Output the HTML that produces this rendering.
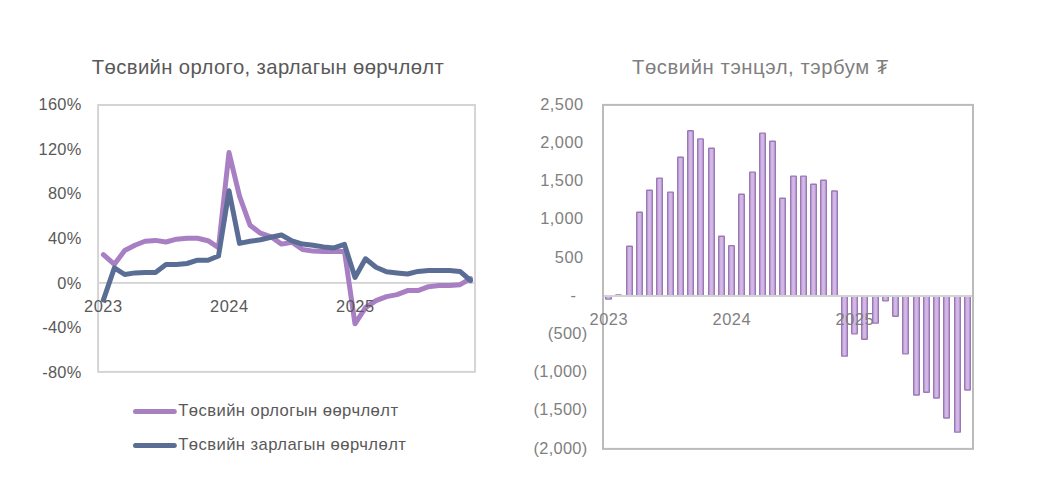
<!DOCTYPE html>
<html><head><meta charset="utf-8"><title>Charts</title>
<style>
html,body{margin:0;padding:0;background:#fff;}
body{width:1045px;height:495px;overflow:hidden;}
svg{display:block;}
svg text{font-family:'Liberation Sans',sans-serif;}
</style></head>
<body>
<svg width="1045" height="495" viewBox="0 0 1045 495">
<rect width="1045" height="495" fill="#ffffff"/>
<g id="left-chart">
<rect x="98.1" y="105.0" width="376.9" height="266.9" fill="none" stroke="#d3d3d3" stroke-width="1.9"/>
<line x1="98.1" y1="282.9" x2="475.0" y2="282.9" stroke="#d2d2d2" stroke-width="1.6"/>
<text x="81.6" y="109.8" text-anchor="end" font-size="16.4" letter-spacing="0.3" fill="#595959">160%</text>
<text x="81.6" y="154.5" text-anchor="end" font-size="16.4" letter-spacing="0.3" fill="#595959">120%</text>
<text x="81.6" y="199.1" text-anchor="end" font-size="16.4" letter-spacing="0.3" fill="#595959">80%</text>
<text x="81.6" y="243.8" text-anchor="end" font-size="16.4" letter-spacing="0.3" fill="#595959">40%</text>
<text x="81.6" y="288.5" text-anchor="end" font-size="16.4" letter-spacing="0.3" fill="#595959">0%</text>
<text x="81.6" y="333.2" text-anchor="end" font-size="16.4" letter-spacing="0.3" fill="#595959">-40%</text>
<text x="81.6" y="377.8" text-anchor="end" font-size="16.4" letter-spacing="0.3" fill="#595959">-80%</text>
<path d="M103.4,254.6 L114.4,264.3 L124.7,250.5 L134.9,245.2 L145.0,241.2 L155.5,240.4 L166.0,242.0 L176.5,239.2 L187.0,238.3 L197.5,238.3 L208.0,240.7 L218.5,247.6 L229.0,152.6 L239.5,196.2 L250.0,225.2 L260.5,233.2 L271.0,236.8 L281.5,244.1 L292.0,242.3 L302.5,249.5 L313.0,251.1 L323.5,251.4 L334.0,251.4 L344.5,251.4 L355.0,323.8 L365.5,307.7 L376.0,300.7 L386.5,296.6 L397.0,294.6 L407.5,290.6 L418.0,290.6 L428.5,286.7 L439.0,285.5 L449.5,285.5 L460.0,284.7 L470.5,278.6" fill="none" stroke="#a97fc4" stroke-width="5.0" stroke-linejoin="round" stroke-linecap="round"/>
<path d="M103.4,299.9 L114.4,267.9 L124.7,274.5 L134.9,272.9 L145.0,272.4 L155.5,272.4 L166.0,264.6 L176.5,264.6 L187.0,263.5 L197.5,260.2 L208.0,260.2 L218.5,256.0 L229.0,190.8 L239.5,243.4 L250.0,241.2 L260.5,239.8 L271.0,237.3 L281.5,235.0 L292.0,240.9 L302.5,244.1 L313.0,245.3 L323.5,246.9 L334.0,247.9 L344.5,244.4 L355.0,277.4 L365.5,258.8 L376.0,267.3 L386.5,271.8 L397.0,273.0 L407.5,274.0 L418.0,271.4 L428.5,270.6 L439.0,270.6 L449.5,270.6 L460.0,271.4 L470.5,280.5" fill="none" stroke="#5a6d94" stroke-width="5.0" stroke-linejoin="round" stroke-linecap="round"/>
<text x="103.3" y="311.5" text-anchor="middle" font-size="16.4" letter-spacing="0.5" fill="#595959">2023</text>
<text x="229.3" y="311.5" text-anchor="middle" font-size="16.4" letter-spacing="0.5" fill="#595959">2024</text>
<text x="355.3" y="311.5" text-anchor="middle" font-size="16.4" letter-spacing="0.5" fill="#595959">2025</text>
<text x="91.8" y="73.65" font-size="20.3" letter-spacing="0.375" fill="#595959">Төсвийн орлого, зарлагын өөрчлөлт</text>
<line x1="135.5" y1="411.5" x2="174.3" y2="411.5" stroke="#a97fc4" stroke-width="5.0" stroke-linecap="round"/>
<text x="178.2" y="415.85" font-size="16.6" letter-spacing="0.44" fill="#595959">Төсвийн орлогын өөрчлөлт</text>
<line x1="135.5" y1="445.5" x2="174.3" y2="445.5" stroke="#5a6d94" stroke-width="5.0" stroke-linecap="round"/>
<text x="178.2" y="450.35" font-size="16.6" letter-spacing="0.44" fill="#595959">Төсвийн зарлагын өөрчлөлт</text>
</g>
<g id="right-chart">
<defs><linearGradient id="bg" x1="0" x2="1" y1="0" y2="0"><stop offset="0" stop-color="#c7a9df"/><stop offset="0.5" stop-color="#d3b9e7"/><stop offset="1" stop-color="#c7a9df"/></linearGradient></defs>
<rect x="605.70" y="295.90" width="5.6" height="3.20" rx="0.5" fill="url(#bg)" stroke="#9b79b5" stroke-width="1.4"/>
<rect x="615.70" y="294.90" width="5.6" height="1.00" rx="0.5" fill="url(#bg)" stroke="#9b79b5" stroke-width="1.4"/>
<rect x="626.70" y="246.30" width="5.6" height="49.60" rx="0.5" fill="url(#bg)" stroke="#9b79b5" stroke-width="1.4"/>
<rect x="636.70" y="212.30" width="5.6" height="83.60" rx="0.5" fill="url(#bg)" stroke="#9b79b5" stroke-width="1.4"/>
<rect x="646.70" y="190.20" width="5.6" height="105.70" rx="0.5" fill="url(#bg)" stroke="#9b79b5" stroke-width="1.4"/>
<rect x="656.70" y="178.10" width="5.6" height="117.80" rx="0.5" fill="url(#bg)" stroke="#9b79b5" stroke-width="1.4"/>
<rect x="667.70" y="192.10" width="5.6" height="103.80" rx="0.5" fill="url(#bg)" stroke="#9b79b5" stroke-width="1.4"/>
<rect x="677.70" y="157.20" width="5.6" height="138.70" rx="0.5" fill="url(#bg)" stroke="#9b79b5" stroke-width="1.4"/>
<rect x="687.70" y="130.80" width="5.6" height="165.10" rx="0.5" fill="url(#bg)" stroke="#9b79b5" stroke-width="1.4"/>
<rect x="697.70" y="138.90" width="5.6" height="157.00" rx="0.5" fill="url(#bg)" stroke="#9b79b5" stroke-width="1.4"/>
<rect x="708.70" y="148.20" width="5.6" height="147.70" rx="0.5" fill="url(#bg)" stroke="#9b79b5" stroke-width="1.4"/>
<rect x="718.70" y="236.30" width="5.6" height="59.60" rx="0.5" fill="url(#bg)" stroke="#9b79b5" stroke-width="1.4"/>
<rect x="728.70" y="245.60" width="5.6" height="50.30" rx="0.5" fill="url(#bg)" stroke="#9b79b5" stroke-width="1.4"/>
<rect x="738.70" y="194.20" width="5.6" height="101.70" rx="0.5" fill="url(#bg)" stroke="#9b79b5" stroke-width="1.4"/>
<rect x="749.70" y="172.10" width="5.6" height="123.80" rx="0.5" fill="url(#bg)" stroke="#9b79b5" stroke-width="1.4"/>
<rect x="759.70" y="133.10" width="5.6" height="162.80" rx="0.5" fill="url(#bg)" stroke="#9b79b5" stroke-width="1.4"/>
<rect x="769.70" y="141.20" width="5.6" height="154.70" rx="0.5" fill="url(#bg)" stroke="#9b79b5" stroke-width="1.4"/>
<rect x="779.70" y="198.30" width="5.6" height="97.60" rx="0.5" fill="url(#bg)" stroke="#9b79b5" stroke-width="1.4"/>
<rect x="790.70" y="176.10" width="5.6" height="119.80" rx="0.5" fill="url(#bg)" stroke="#9b79b5" stroke-width="1.4"/>
<rect x="800.70" y="176.10" width="5.6" height="119.80" rx="0.5" fill="url(#bg)" stroke="#9b79b5" stroke-width="1.4"/>
<rect x="810.70" y="184.20" width="5.6" height="111.70" rx="0.5" fill="url(#bg)" stroke="#9b79b5" stroke-width="1.4"/>
<rect x="820.70" y="180.20" width="5.6" height="115.70" rx="0.5" fill="url(#bg)" stroke="#9b79b5" stroke-width="1.4"/>
<rect x="831.70" y="191.00" width="5.6" height="104.90" rx="0.5" fill="url(#bg)" stroke="#9b79b5" stroke-width="1.4"/>
<rect x="841.70" y="295.90" width="5.6" height="60.25" rx="0.5" fill="url(#bg)" stroke="#9b79b5" stroke-width="1.4"/>
<rect x="851.70" y="295.90" width="5.6" height="37.95" rx="0.5" fill="url(#bg)" stroke="#9b79b5" stroke-width="1.4"/>
<rect x="861.70" y="295.90" width="5.6" height="43.35" rx="0.5" fill="url(#bg)" stroke="#9b79b5" stroke-width="1.4"/>
<rect x="872.70" y="295.90" width="5.6" height="27.25" rx="0.5" fill="url(#bg)" stroke="#9b79b5" stroke-width="1.4"/>
<rect x="882.70" y="295.90" width="5.6" height="4.95" rx="0.5" fill="url(#bg)" stroke="#9b79b5" stroke-width="1.4"/>
<rect x="892.70" y="295.90" width="5.6" height="20.35" rx="0.5" fill="url(#bg)" stroke="#9b79b5" stroke-width="1.4"/>
<rect x="902.70" y="295.90" width="5.6" height="57.95" rx="0.5" fill="url(#bg)" stroke="#9b79b5" stroke-width="1.4"/>
<rect x="913.70" y="295.90" width="5.6" height="99.05" rx="0.5" fill="url(#bg)" stroke="#9b79b5" stroke-width="1.4"/>
<rect x="923.70" y="295.90" width="5.6" height="96.35" rx="0.5" fill="url(#bg)" stroke="#9b79b5" stroke-width="1.4"/>
<rect x="933.70" y="295.90" width="5.6" height="102.05" rx="0.5" fill="url(#bg)" stroke="#9b79b5" stroke-width="1.4"/>
<rect x="943.70" y="295.90" width="5.6" height="122.05" rx="0.5" fill="url(#bg)" stroke="#9b79b5" stroke-width="1.4"/>
<rect x="954.70" y="295.90" width="5.6" height="136.25" rx="0.5" fill="url(#bg)" stroke="#9b79b5" stroke-width="1.4"/>
<rect x="964.70" y="295.90" width="5.6" height="94.05" rx="0.5" fill="url(#bg)" stroke="#9b79b5" stroke-width="1.4"/>
<line x1="603.0" y1="295.9" x2="973.0" y2="295.9" stroke="#d3d3d3" stroke-width="2"/>
<rect x="603.0" y="104.9" width="370.0" height="344.0" fill="none" stroke="#bbbbbb" stroke-width="2"/>
<text x="583.55" y="109.8" text-anchor="end" font-size="16.4" letter-spacing="0.45" fill="#7f7f7f">2,500</text>
<text x="583.55" y="148.0" text-anchor="end" font-size="16.4" letter-spacing="0.45" fill="#7f7f7f">2,000</text>
<text x="583.55" y="186.2" text-anchor="end" font-size="16.4" letter-spacing="0.45" fill="#7f7f7f">1,500</text>
<text x="583.55" y="224.4" text-anchor="end" font-size="16.4" letter-spacing="0.45" fill="#7f7f7f">1,000</text>
<text x="583.55" y="262.6" text-anchor="end" font-size="16.4" letter-spacing="0.45" fill="#7f7f7f">500</text>
<text x="576.3" y="300.8" text-anchor="end" font-size="16.4" letter-spacing="0.45" fill="#7f7f7f">-</text>
<text x="587.5" y="339.0" text-anchor="end" font-size="16.4" letter-spacing="0.3" fill="#7f7f7f">(500)</text>
<text x="587.5" y="377.2" text-anchor="end" font-size="16.4" letter-spacing="0.3" fill="#7f7f7f">(1,000)</text>
<text x="587.5" y="415.4" text-anchor="end" font-size="16.4" letter-spacing="0.3" fill="#7f7f7f">(1,500)</text>
<text x="587.5" y="453.6" text-anchor="end" font-size="16.4" letter-spacing="0.3" fill="#7f7f7f">(2,000)</text>
<text x="608.8" y="324.5" text-anchor="middle" font-size="16.4" letter-spacing="0.5" fill="#7f7f7f">2023</text>
<text x="731.8" y="324.5" text-anchor="middle" font-size="16.4" letter-spacing="0.5" fill="#7f7f7f">2024</text>
<text x="854.8" y="324.5" text-anchor="middle" font-size="16.4" letter-spacing="0.5" fill="#7f7f7f">2025</text>
<text x="632.0" y="73.9" font-size="20.3" letter-spacing="0.56" fill="#7f7f7f">Төсвийн тэнцэл, тэрбум ₮</text>
</g>
</svg>
</body></html>
